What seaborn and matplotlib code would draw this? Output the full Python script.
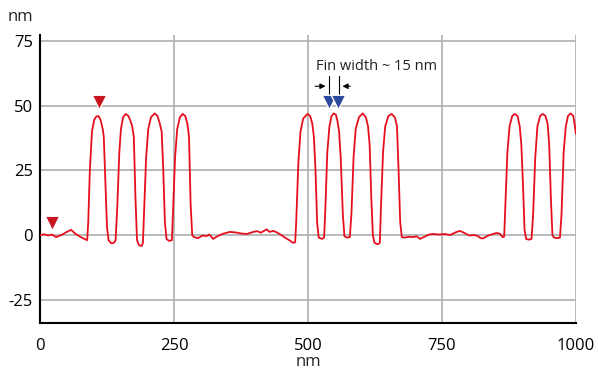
import matplotlib
matplotlib.use("Agg")
import matplotlib.pyplot as plt
import seaborn as sns
import pandas as pd

# profile data (nm)
x_nm = [0, 8, 15, 22, 30, 40, 50, 58, 66, 76, 88,
        90, 93, 97, 101, 105, 109, 113, 117, 119, 122, 125, 128, 133, 138, 141,
        144, 148, 151, 155, 160, 165, 169, 172, 175, 178, 181, 185, 190, 192,
        194, 198, 202, 207, 214, 219, 223, 227, 230, 233, 236, 241, 246,
        248, 252, 256, 261, 266, 271, 275, 278, 281, 284, 287,
        295, 303, 311, 316, 323, 330, 340, 354, 365, 375, 386, 398, 405, 412, 418, 423, 428, 435, 442, 450, 457, 465, 472, 476,
        478, 482, 486, 491, 499, 504, 508, 511, 514, 517, 520, 526, 530,
        532, 536, 540, 544, 548, 552, 555, 558, 561, 565, 568, 573, 578,
        581, 585, 589, 595, 602, 608, 612, 615, 618, 621, 624, 630, 634,
        636, 640, 644, 650, 656, 662, 666, 669, 672, 675, 680,
        688, 696, 703, 709, 718, 726, 733, 745, 755, 765, 775, 783, 790, 796, 802, 810, 817, 822, 827, 835, 845, 852, 858, 863, 866,
        868, 872, 876, 881, 886, 891, 895, 898, 901, 904, 907, 912, 917,
        920, 924, 928, 933, 938, 943, 947, 950, 953, 956, 959, 965, 970,
        973, 977, 981, 985, 990, 995, 998, 1000]
height_nm = [0, 0.3, -0.2, 0.2, -0.8, 0, 1.2, 2, 0.5, -0.8, -2,
             5, 25, 40, 44.5, 45.8, 46, 44.5, 41, 38, 20, 3, -2, -3.2, -3, -2,
             10, 32, 41, 45.5, 46.8, 46, 44, 42, 38, 15, -2, -4, -4.2, -3,
             8, 30, 41, 45.5, 47, 46, 43.5, 40, 25, 5, -1.5, -2.3, -2,
             8, 30, 41, 45.5, 46.8, 46, 43, 38, 12, 0, -0.8,
             -1.2, -0.2, -0.4, 0.2, -1.5, -0.6, 0.4, 1.2, 1.0, 0.6, 0.4, 1.2, 1.5, 0.9, 1.6, 2.2, 1.2, 1.6, 1, 0, -1, -2, -3, -2.8,
             5, 28, 40, 45, 46.8, 46, 43, 38, 25, 5, -1, -1.5, -1,
             8, 32, 42, 46, 47, 46.5, 44, 40, 30, 8, -0.5, -1, -0.8,
             8, 30, 41, 45.5, 47, 45.5, 42, 35, 15, 0, -3, -3.6, -3,
             10, 32, 42, 46, 46.8, 45.5, 42, 25, 5, -0.8, -1,
             -0.7, -0.8, -0.5, -1.5, -0.6, 0.2, 0.4, 0.2, 0.4, 0, 1.0, 1.6, 1.0, 0.3, -0.2, 0, -0.4, -1.2, -1.3, -0.3, 0.4, 0.8, 0.5, -0.8, -0.6,
             10, 32, 42, 46, 46.8, 46, 42, 35, 20, 2, -1.5, -1.8, -1.5,
             8, 30, 42, 46, 46.8, 46, 43, 35, 15, 0, -1, -1.2, -1,
             8, 32, 42, 46, 47, 46, 42, 39]

red_marker_x = [22, 110]
red_marker_y = [4.5, 51.5]
blue_marker_x = [539, 556]
blue_marker_y = [51.5, 51.5]

x_ticks = [0, 250, 500, 750, 1000]
y_ticks = [-25, 0, 25, 50, 75]
annotation_text = "Fin width ~ 15 nm"

sns.set_style("white")
plt.rcParams['font.family'] = ['Open Sans', 'DejaVu Sans']
plt.rcParams['axes.unicode_minus'] = False

fig = plt.figure(figsize=(5.98, 3.72), dpi=100)
ax = fig.add_axes([40/598, 1-323/372, 536/598, 288/372])

df = pd.DataFrame({"x": x_nm, "y": height_nm})
sns.lineplot(data=df, x="x", y="y", ax=ax, color="#e60f1e", linewidth=1.3, sort=False, zorder=3)

sns.scatterplot(x=red_marker_x, y=red_marker_y, ax=ax, marker="v", s=110,
                color="#c8141e", edgecolor="white", linewidth=1.0, zorder=5)
sns.scatterplot(x=blue_marker_x, y=blue_marker_y, ax=ax, marker="v", s=110,
                color="#2a4a9c", edgecolor="white", linewidth=1.0, zorder=5)

# annotation
ax.plot([539, 539], [53.8, 61.5], color="black", lw=0.8, zorder=4)
ax.plot([558, 558], [53.8, 61.5], color="black", lw=0.8, zorder=4)
ax.annotate("", xy=(538, 57.5), xytext=(508, 57.5),
            arrowprops=dict(arrowstyle="-|>", color="black", lw=0.8, mutation_scale=8))
ax.annotate("", xy=(559, 57.5), xytext=(584, 57.5),
            arrowprops=dict(arrowstyle="-|>", color="black", lw=0.8, mutation_scale=8))
ax.text(627, 65, annotation_text, ha="center", va="center", fontsize=10.5, color="#222222")

ax.set_xlim(0, 1000)
ax.set_ylim(-34, 77.3)
ax.set_xticks(x_ticks)
ax.set_yticks(y_ticks)
ax.grid(True, color="#b4b4b4", linewidth=1.3)
ax.set_axisbelow(True)
for s in ["top", "right"]:
    ax.spines[s].set_visible(False)
for s in ["left", "bottom"]:
    ax.spines[s].set_color("black")
    ax.spines[s].set_linewidth(1.5)
ax.tick_params(axis="both", direction="inout", length=6, width=1.2, color="black",
               labelsize=12, colors="black")
ax.tick_params(axis="x", pad=8)
ax.tick_params(axis="y", pad=2)
ax.set_xlabel("nm", fontsize=12, labelpad=0)
ax.set_ylabel("")
fig.text(8/598, 1-17/372, "nm", fontsize=12, ha="left", va="center")

fig.savefig("out.png", dpi=100)
